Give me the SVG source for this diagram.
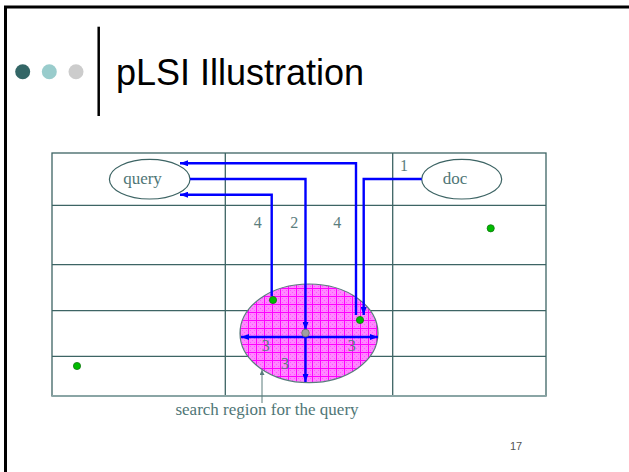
<svg xmlns="http://www.w3.org/2000/svg" width="629" height="472" viewBox="0 0 629 472">
<defs>
<style>
.grid{stroke:#3d6464;stroke-width:1.3;fill:none}
.lbl{font-family:"Liberation Serif","Times New Roman",serif;font-size:17px;fill:#4f7676}
.num{font-family:"Liberation Serif","Times New Roman",serif;font-size:16px;fill:#5a7d7d}
.node{fill:#ffffff;stroke:#3d6464;stroke-width:1.2}
.blue{stroke:#0000ff;stroke-width:2.4;fill:none}
.green{fill:#00bb00;stroke:#117711;stroke-width:0.8}
</style>
<marker id="ah" viewBox="0 0 8 6" refX="8" refY="3" markerWidth="8" markerHeight="6" markerUnits="userSpaceOnUse" orient="auto-start-reverse">
<path d="M0,0 L8,3 L0,6 z" fill="#0000ff"/>
</marker>
<marker id="ahg" viewBox="0 0 6 6" refX="6" refY="3" markerWidth="6" markerHeight="5" markerUnits="userSpaceOnUse" orient="auto">
<path d="M0,0 L6,3 L0,6 z" fill="#5a7d7d"/>
</marker>
<pattern id="mesh" width="8" height="8" patternUnits="userSpaceOnUse" x="0" y="0">
<rect width="8" height="8" fill="#ff88ff"/>
<path d="M0,0h1v1h-1zM2,2h1v1h-1zM4,4h1v1h-1zM6,6h1v1h-1zM4,0h1v1h-1zM6,2h1v1h-1zM0,4h1v1h-1zM2,6h1v1h-1z" fill="#ff55ff"/>
<path d="M0,0.5H8M0.5,0V8" stroke="#ff00ff" stroke-width="1"/>
</pattern>
</defs>
<rect width="629" height="472" fill="#ffffff"/>
<path d="M5.5,472 V7 H629" fill="none" stroke="#000000" stroke-width="3"/>
<g id="header">
<circle cx="22.7" cy="71.7" r="7.5" fill="#336666"/>
<circle cx="49.3" cy="71.7" r="7.5" fill="#99cccc"/>
<circle cx="76" cy="71.7" r="7.5" fill="#cccccc"/>
<line x1="98.7" y1="26.7" x2="98.7" y2="116" stroke="#000000" stroke-width="2.5"/>
<text x="116" y="85" font-family="Liberation Sans, Arial, sans-serif" font-size="36" fill="#000000">pLSI Illustration</text>
</g>
<g id="grid">
<rect x="52" y="153" width="494" height="243" class="grid"/>
<path class="grid" d="M225.3,153V396M392.7,153V396M52,205.3H546M52,264.7H546M52,310.7H546M52,356.3H546"/>
<path d="M52,396H546" stroke="#8aa5a5" stroke-width="2"/>
</g>
<g id="region">
<ellipse cx="309" cy="333.3" rx="69" ry="49.3" fill="url(#mesh)" stroke="#5a7d7d" stroke-width="1.2"/>
</g>
<g id="query">
<ellipse cx="149.7" cy="179.2" rx="40.3" ry="19.8" class="node"/>
<text x="142.5" y="184" text-anchor="middle" class="lbl">query</text>
</g>
<g id="doc">
<ellipse cx="461.7" cy="179.2" rx="40" ry="19.8" class="node"/>
<text x="455" y="184" text-anchor="middle" class="lbl">doc</text>
</g>
<g id="connectors">
<path class="blue" d="M356,315 V163.3 H180" marker-end="url(#ah)"/>
<path class="blue" d="M190,179 H305.5 V330" marker-end="url(#ah)"/>
<path class="blue" d="M271.7,296 V194.7 H180" marker-end="url(#ah)"/>
<path class="blue" d="M421.7,179 H363.7 V315" marker-end="url(#ah)"/>
<path class="blue" d="M241,337 H378" marker-start="url(#ah)" marker-end="url(#ah)"/>
<path class="blue" d="M305.5,333 V382" marker-end="url(#ah)"/>
<path d="M262,403 V370" stroke="#5a7d7d" stroke-width="1" fill="none" marker-end="url(#ahg)"/>
</g>
<g id="points">
<circle cx="273" cy="300" r="3.6" class="green"/>
<circle cx="360" cy="320" r="3.6" class="green"/>
<circle cx="490.7" cy="228.3" r="3.6" class="green"/>
<circle cx="77" cy="366" r="3.6" class="green"/>
<circle cx="305.5" cy="333" r="3.8" fill="#a0a0a0" stroke="#6b6b6b" stroke-width="0.8"/>
</g>
<g id="labels">
<text x="400" y="171" class="num">1</text>
<text x="257.7" y="228" text-anchor="middle" class="num">4</text>
<text x="294.3" y="228" text-anchor="middle" class="num">2</text>
<text x="337.3" y="228" text-anchor="middle" class="num">4</text>
<text x="265.7" y="351" text-anchor="middle" class="num">3</text>
<text x="285" y="369" text-anchor="middle" class="num">3</text>
<text x="351.7" y="351" text-anchor="middle" class="num">3</text>
<text x="267" y="415" text-anchor="middle" class="lbl">search region for the query</text>
<text x="516" y="450" text-anchor="middle" font-family="Liberation Sans, Arial, sans-serif" font-size="11" fill="#555555">17</text>
</g>
</svg>
